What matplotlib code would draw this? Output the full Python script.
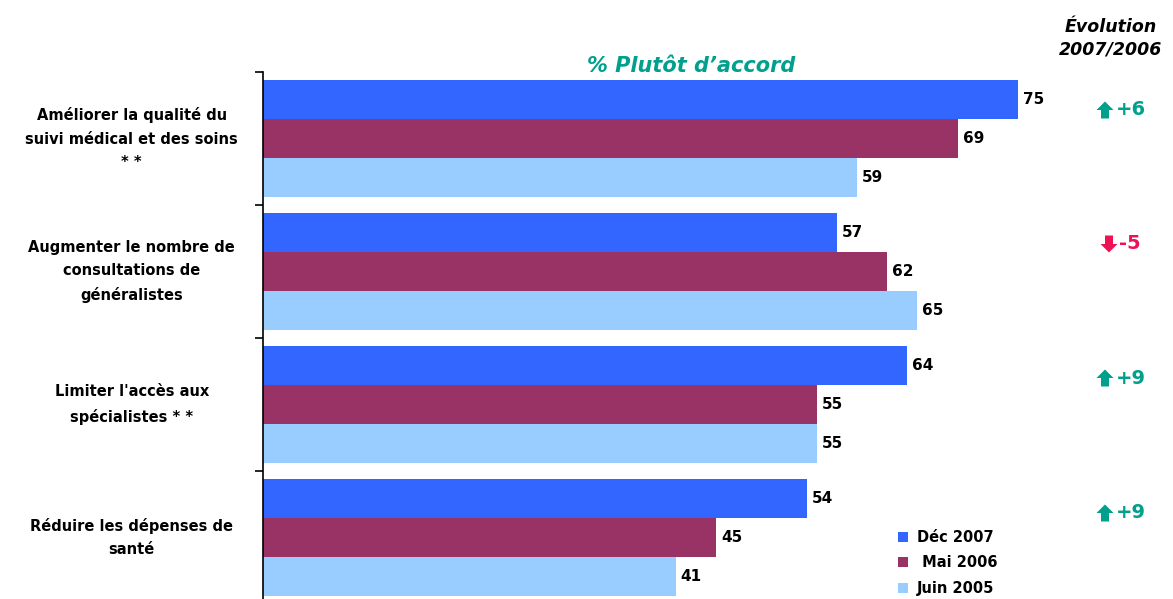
import numpy as np
import matplotlib
matplotlib.use("Agg")
import matplotlib.pyplot as plt
from matplotlib.patches import Patch, Polygon

categories = [
    "Améliorer la qualité du\nsuivi médical et des soins\n* *",
    "Augmenter le nombre de\nconsultations de\ngénéralistes",
    "Limiter l'accès aux\nspécialistes * *",
    "Réduire les dépenses de\nsanté",
]
series_names = ["Déc 2007", " Mai 2006", "Juin 2005"]
dec_2007 = [75, 57, 64, 54]
mai_2006 = [69, 62, 55, 45]
juin_2005 = [59, 65, 55, 41]

colors = ["#3366FF", "#993366", "#99CCFF"]
teal = "#00A08C"
red = "#EE1155"

W, H = 1173, 599
fig = plt.figure(figsize=(W / 100, H / 100), dpi=100)
# axes placed in pixel terms: x from 263 to 1169, y from 72 down to 604
ax = fig.add_axes([263 / W, (H - 604) / H, 906 / W, 532 / H])

n = len(categories)
y = np.arange(n)
bar_h = 0.291
offsets = [-bar_h, 0, bar_h]
for vals, off, col in zip([dec_2007, mai_2006, juin_2005], offsets, colors):
    bars = ax.barh(y + off, vals, height=bar_h, color=col, edgecolor="none")
    for b, v in zip(bars, vals):
        ax.text(v + 0.5, b.get_y() + b.get_height() / 2, f"{v}",
                va="center", ha="left", fontsize=11, fontweight="bold")

ax.set_xlim(0, 90)
ax.set_ylim(n - 0.5, -0.5)
for s in ["top", "right", "bottom"]:
    ax.spines[s].set_visible(False)
ax.spines["left"].set_linewidth(1.2)
ax.set_xticks([])
ax.set_yticks(np.arange(n) - 0.5)
ax.set_yticklabels([])
ax.tick_params(axis="y", length=6, width=1.2, direction="out")

# category labels, centred in the left margin
for i, label in enumerate(categories):
    ax.text(-0.145, i, label, transform=ax.get_yaxis_transform(),
            ha="center", va="center", fontsize=10.5, fontweight="bold",
            linespacing=1.7)

fig.text(691 / W, 1 - 66 / H, "% Plutôt d\u2019accord", ha="center", va="center",
         fontsize=15, fontweight="bold", style="italic", color=teal)
fig.text(1111 / W, 1 - 38 / H, "Évolution\n2007/2006", ha="center", va="center",
         fontsize=12.5, fontweight="bold", style="italic", linespacing=1.35)


def block_arrow(cx, cy, up, color):
    # chunky arrow, coordinates in figure pixels (y measured from top)
    hw, sw, hh, total = 8.5, 4, 8.5, 17
    s = -1 if up else 1
    tip = cy + s * total / 2
    base = tip - s * hh
    tail = cy - s * total / 2
    pts = [(cx, tip), (cx + hw, base), (cx + sw, base), (cx + sw, tail),
           (cx - sw, tail), (cx - sw, base), (cx - hw, base)]
    pts = [(px / W, 1 - py / H) for px, py in pts]
    fig.add_artist(Polygon(pts, closed=True, facecolor=color, edgecolor="none",
                           transform=fig.transFigure))


# evolution Dec 2007 vs Mai 2006
evo = [d - m for d, m in zip(dec_2007, mai_2006)]
evo_y = [110, 244, 378, 513]
for e, yy in zip(evo, evo_y):
    col = teal if e >= 0 else red
    if e >= 0:
        block_arrow(1105, yy, True, col)
        fig.text(1116 / W, 1 - yy / H, f"+{e}", ha="left", va="center",
                 fontsize=14, color=col, fontweight="bold")
    else:
        block_arrow(1109, yy, False, col)
        fig.text(1119 / W, 1 - yy / H, f"{e}", ha="left", va="center",
                 fontsize=14, color=col, fontweight="bold")

handles = [Patch(facecolor=c, edgecolor="none") for c in colors]
fig.legend(handles, series_names, loc="upper left",
           bbox_to_anchor=(892 / W, 1 - 524 / H), frameon=False,
           prop={"weight": "bold", "size": 10.5}, handlelength=0.7,
           handleheight=0.7, handletextpad=0.6, labelspacing=0.72,
           borderaxespad=0)

fig.savefig("out.png", dpi=100)
